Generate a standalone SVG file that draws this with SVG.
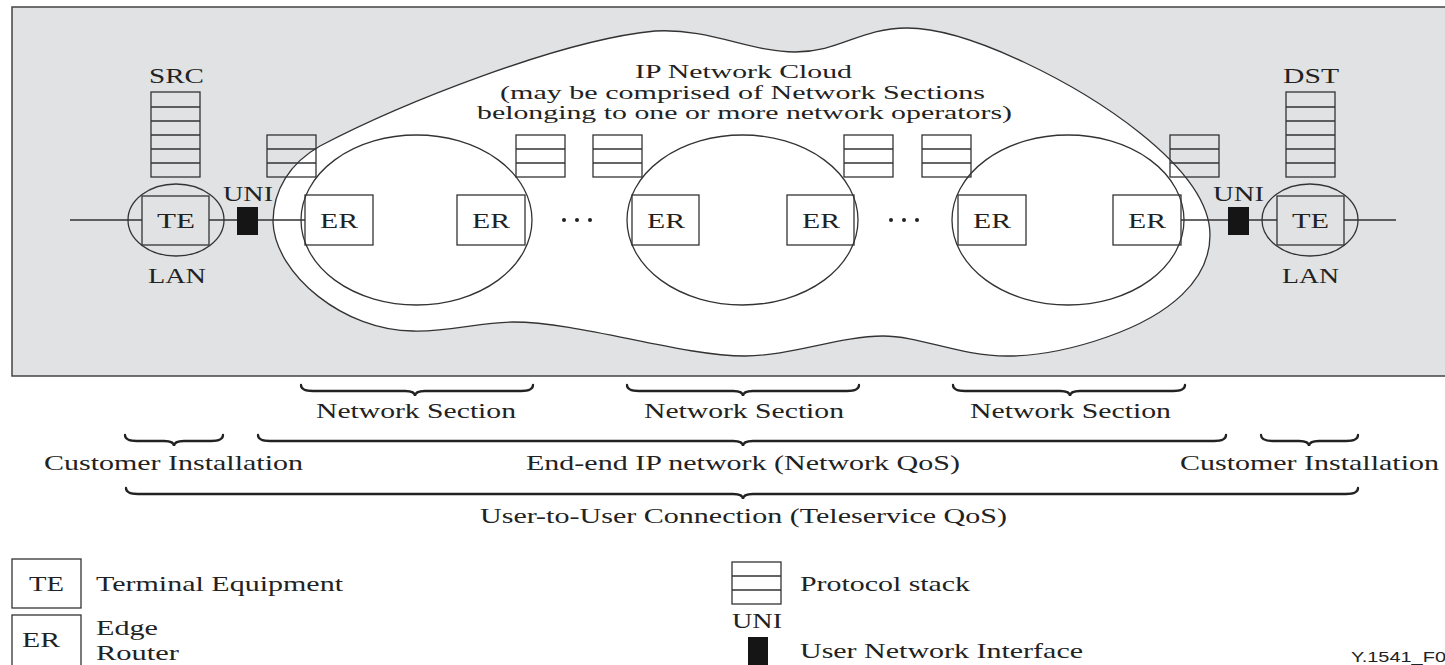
<svg xmlns="http://www.w3.org/2000/svg" width="1445" height="665" viewBox="0 0 1445 665">
<style>
.t{font-family:"Liberation Serif","Times New Roman",serif;font-size:21px;fill:#222}
.c{font-size:19.5px}
.s{fill:none;stroke:#333;stroke-width:1.3}
.w{fill:#fff;stroke:#333;stroke-width:1.3}
.ln{stroke:#333;stroke-width:1.3;fill:none}
.br{fill:none;stroke:#222;stroke-width:2.3;stroke-linecap:round}
.blk{fill:#151515}
</style>
<defs>
<g id="st3"><rect class="s" x="0" y="0" width="49" height="42"/><path class="ln" d="M0 14H49M0 28H49"/></g>
<g id="st6"><rect class="s" x="0" y="0" width="49" height="85"/><path class="ln" d="M0 15H49M0 29H49M0 43H49M0 57H49M0 71H49"/></g>
</defs>
<rect x="12" y="7" width="1440" height="369" fill="#e1e2e4" stroke="#444" stroke-width="1.5"/>
<g id="cloud">
<path class="w" d="M273 222 C273 190 290 163 320 146 C400 104 560 40 655 31 C710 28 750 52 795 52 C840 52 860 28 907 28 C970 28 1080 85 1140 133 C1180 165 1210 200 1210 235 C1210 280 1170 315 1107 337 C1070 350 1040 356 1007 356 C960 356 920 336 883 336 C840 336 790 356 745 356 C680 356 580 322 513 322 C480 322 450 332 413 331 C345 331 275 275 273 222 Z"/>
<text class="t c" x="635" y="78" textLength="217" lengthAdjust="spacingAndGlyphs">IP Network Cloud</text>
<text class="t c" x="500" y="99" textLength="485" lengthAdjust="spacingAndGlyphs">(may be comprised of Network Sections</text>
<text class="t c" x="477" y="119" textLength="535" lengthAdjust="spacingAndGlyphs">belonging to one or more network operators)</text>
</g>
<g id="sections">
<ellipse class="s" cx="416.5" cy="220" rx="115.5" ry="85"/>
<ellipse class="s" cx="742.5" cy="220" rx="115.5" ry="85"/>
<ellipse class="s" cx="1068" cy="220" rx="116" ry="85"/>
</g>
<g id="connectors">
<path class="ln" d="M70 220H142M209 220H237M258 220H305M1181 220H1228M1249 220H1277M1344 220H1396"/>
</g>
<g id="src">
<text class="t" x="149" y="83" textLength="55" lengthAdjust="spacingAndGlyphs">SRC</text>
<use href="#st6" x="151" y="92"/>
</g>
<g id="te-left">
<ellipse class="s" cx="176" cy="220" rx="48" ry="36"/>
<rect class="s" x="142" y="196" width="67" height="49"/>
<text class="t" x="157" y="228" textLength="38" lengthAdjust="spacingAndGlyphs">TE</text>
<text class="t" x="148" y="283" textLength="58" lengthAdjust="spacingAndGlyphs">LAN</text>
</g>
<g id="uni-left">
<rect class="blk" x="237" y="207" width="21" height="28"/>
<text class="t" x="223" y="201" textLength="50" lengthAdjust="spacingAndGlyphs">UNI</text>
</g>
<g id="stacks">
<use href="#st3" x="267" y="135"/>
<use href="#st3" x="516" y="135"/>
<use href="#st3" x="593" y="135"/>
<use href="#st3" x="844" y="135"/>
<use href="#st3" x="922" y="135"/>
<use href="#st3" x="1170" y="135"/>
</g>
<g id="er1"><rect class="s" x="305" y="195" width="68" height="50"/><text class="t" x="320" y="228" textLength="38" lengthAdjust="spacingAndGlyphs">ER</text></g>
<g id="er2"><rect class="s" x="457" y="195" width="68" height="50"/><text class="t" x="472" y="228" textLength="38" lengthAdjust="spacingAndGlyphs">ER</text></g>
<g id="er3"><rect class="s" x="632" y="195" width="67" height="50"/><text class="t" x="647" y="228" textLength="38" lengthAdjust="spacingAndGlyphs">ER</text></g>
<g id="er4"><rect class="s" x="787" y="195" width="67" height="50"/><text class="t" x="802" y="228" textLength="38" lengthAdjust="spacingAndGlyphs">ER</text></g>
<g id="er5"><rect class="s" x="958" y="195" width="68" height="50"/><text class="t" x="973" y="228" textLength="38" lengthAdjust="spacingAndGlyphs">ER</text></g>
<g id="er6"><rect class="s" x="1113" y="195" width="68" height="50"/><text class="t" x="1128" y="228" textLength="38" lengthAdjust="spacingAndGlyphs">ER</text></g>
<g id="dots" fill="#222">
<circle cx="564" cy="220" r="2"/><circle cx="577" cy="220" r="2"/><circle cx="590" cy="220" r="2"/>
<circle cx="891" cy="220" r="2"/><circle cx="904" cy="220" r="2"/><circle cx="917" cy="220" r="2"/>
</g>
<g id="uni-right">
<rect class="blk" x="1228" y="207" width="21" height="28"/>
<text class="t" x="1213" y="201" textLength="51" lengthAdjust="spacingAndGlyphs">UNI</text>
</g>
<g id="te-right">
<ellipse class="s" cx="1310" cy="220" rx="48" ry="36"/>
<rect class="s" x="1277" y="196" width="67" height="49"/>
<text class="t" x="1292" y="228" textLength="37" lengthAdjust="spacingAndGlyphs">TE</text>
<text class="t" x="1282" y="283" textLength="57" lengthAdjust="spacingAndGlyphs">LAN</text>
</g>
<g id="dst">
<text class="t" x="1283" y="83" textLength="56" lengthAdjust="spacingAndGlyphs">DST</text>
<use href="#st6" x="1286" y="92"/>
</g>
<g id="braces">
<path class="br" d="M301 385 Q301 391 313 391 H405 Q415 391 415 396 Q415 391 425 391 H521 Q533 391 533 385"/>
<path class="br" d="M627 385 Q627 391 639 391 H733 Q743 391 743 396 Q743 391 753 391 H847 Q859 391 859 385"/>
<path class="br" d="M953 385 Q953 391 965 391 H1060 Q1070 391 1070 396 Q1070 391 1080 391 H1173 Q1185 391 1185 385"/>
<path class="br" d="M125 435 Q125 441 137 441 H164 Q174 441 174 446 Q174 441 184 441 H211 Q223 441 223 435"/>
<path class="br" d="M258 435 Q258 441 270 441 H733 Q743 441 743 446 Q743 441 753 441 H1214 Q1226 441 1226 435" stroke-width="2.8"/>
<path class="br" d="M1261 435 Q1261 441 1273 441 H1299 Q1309 441 1309 446 Q1309 441 1319 441 H1346 Q1358 441 1358 435"/>
<path class="br" d="M126 488 Q126 494 138 494 H733 Q743 494 743 499 Q743 494 753 494 H1346 Q1358 494 1358 488" stroke-width="3"/>
</g>
<g id="labels">
<text class="t" x="316" y="418" textLength="200" lengthAdjust="spacingAndGlyphs">Network Section</text>
<text class="t" x="644" y="418" textLength="200" lengthAdjust="spacingAndGlyphs">Network Section</text>
<text class="t" x="970" y="418" textLength="201" lengthAdjust="spacingAndGlyphs">Network Section</text>
<text class="t" x="44" y="470" textLength="259" lengthAdjust="spacingAndGlyphs">Customer Installation</text>
<text class="t" x="526" y="470" textLength="434" lengthAdjust="spacingAndGlyphs">End-end IP network (Network QoS)</text>
<text class="t" x="1180" y="470" textLength="259" lengthAdjust="spacingAndGlyphs">Customer Installation</text>
<text class="t" x="480" y="523" textLength="527" lengthAdjust="spacingAndGlyphs">User-to-User Connection (Teleservice QoS)</text>
</g>
<g id="legend-te">
<rect class="s" x="12" y="559" width="69" height="49"/>
<text class="t" x="29" y="591" textLength="35" lengthAdjust="spacingAndGlyphs">TE</text>
<text class="t" x="96" y="591" textLength="247" lengthAdjust="spacingAndGlyphs">Terminal Equipment</text>
</g>
<g id="legend-er">
<rect class="s" x="12" y="615" width="69" height="55"/>
<text class="t" x="22" y="647" textLength="38" lengthAdjust="spacingAndGlyphs">ER</text>
<text class="t" x="96" y="635" textLength="62" lengthAdjust="spacingAndGlyphs">Edge</text>
<text class="t" x="96" y="660" textLength="83" lengthAdjust="spacingAndGlyphs">Router</text>
</g>
<g id="legend-stack">
<rect class="s" x="732" y="562" width="49" height="42"/>
<path class="ln" d="M732 576H781M732 590H781"/>
<text class="t" x="800" y="591" textLength="170" lengthAdjust="spacingAndGlyphs">Protocol stack</text>
</g>
<g id="legend-uni">
<text class="t" x="732" y="628" textLength="50" lengthAdjust="spacingAndGlyphs">UNI</text>
<rect class="blk" x="748" y="637" width="20" height="30"/>
<text class="t" x="800" y="658" textLength="283" lengthAdjust="spacingAndGlyphs">User Network Interface</text>
</g>
<text x="1351" y="662" font-family="'Liberation Sans',Arial,sans-serif" font-size="15" fill="#222" textLength="95" lengthAdjust="spacingAndGlyphs">Y.1541_F0</text>
</svg>
